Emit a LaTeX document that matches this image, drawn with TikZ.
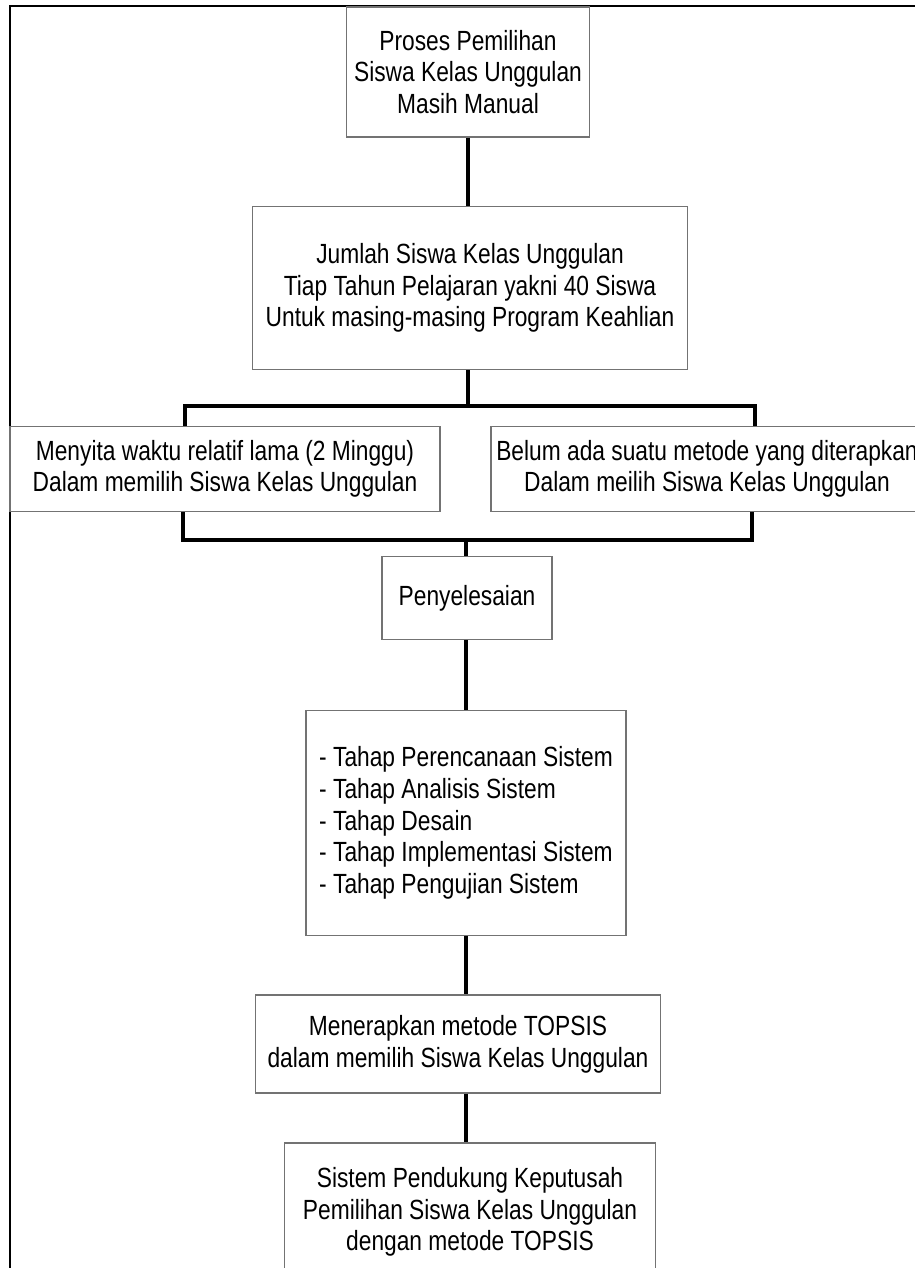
\documentclass[tikz,border=0pt]{standalone}
\usepackage{fontspec}
\setmainfont{Liberation Sans}[FakeStretch=0.82]
\usetikzlibrary{positioning}

\begin{document}
\begin{tikzpicture}[x=0.02cm,y=-0.02cm,
    kotak/.style={draw=black!55, line width=0.8pt, fill=white, align=center,
                  inner sep=0pt, font=\fontsize{15.8}{18}\selectfont},
    garis/.style={line width=1.8pt}]

\useasboundingbox (0,0) rectangle (915,1268);
\clip (0,0) rectangle (915,1268);

%-------------------------------------------- Frame
\draw[line width=1.1pt] (10,1268) -- (10,6) -- (915,6);

%-------------------------------------------- Boxes
\node[kotak, minimum width=243*0.02cm, minimum height=130*0.02cm] (proses) at (468,72)
    {Proses Pemilihan\\Siswa Kelas Unggulan\\Masih Manual};
\node[kotak, minimum width=435*0.02cm, minimum height=163*0.02cm] (jumlah) at (470,288)
    {Jumlah Siswa Kelas Unggulan\\Tiap Tahun Pelajaran yakni 40 Siswa\\Untuk masing-masing Program Keahlian};
\node[kotak, minimum width=430*0.02cm, minimum height=85*0.02cm] (waktu) at (225,469)
    {Menyita waktu relatif lama (2 Minggu)\\Dalam memilih Siswa Kelas Unggulan};
\node[kotak, minimum width=432*0.02cm, minimum height=85*0.02cm] (metode) at (707,469)
    {Belum ada suatu metode yang diterapkan\\Dalam meilih Siswa Kelas Unggulan};
\node[kotak, minimum width=170*0.02cm, minimum height=83*0.02cm] (selesai) at (467,598)
    {Penyelesaian};
\node[kotak, align=left, minimum width=320*0.02cm, minimum height=225*0.02cm] (tahap) at (466,823)
    {- Tahap Perencanaan Sistem\\- Tahap Analisis Sistem\\- Tahap Desain\\- Tahap Implementasi Sistem\\- Tahap Pengujian Sistem};
\node[kotak, minimum width=405*0.02cm, minimum height=98*0.02cm] (topsis) at (458,1044)
    {Menerapkan metode TOPSIS\\dalam memilih Siswa Kelas Unggulan};
\node[kotak, minimum width=371*0.02cm, minimum height=138*0.02cm] (spk) at (470,1212)
    {Sistem Pendukung Keputusah\\Pemilihan Siswa Kelas Unggulan\\dengan metode TOPSIS};

%-------------------------------------------- Connectors
\coordinate (atasKiri) at (185,406);
\coordinate (atasKanan) at (755,406);
\coordinate (bawahKiri) at (183,540);
\coordinate (bawahKanan) at (752,540);
\coordinate (tengah) at (466,540);

\draw[garis] (proses.south) -- (proses.south |- jumlah.north);
\draw[garis] (jumlah.south -| proses.south) -- (proses.south |- atasKiri);
\draw[garis] (atasKiri |- waktu.north) -- (atasKiri) -- (atasKanan) -- (atasKanan |- metode.north);
\draw[garis] (bawahKiri |- waktu.south) -- (bawahKiri) -- (bawahKanan) -- (bawahKanan |- metode.south);
\draw[garis] (tengah) -- (tengah |- selesai.north);
\draw[garis] (selesai.south -| tengah) -- (tengah |- tahap.north);
\draw[garis] (tahap.south -| tengah) -- (tengah |- topsis.north);
\draw[garis] (topsis.south -| tengah) -- (tengah |- spk.north);

\end{tikzpicture}
\end{document}
